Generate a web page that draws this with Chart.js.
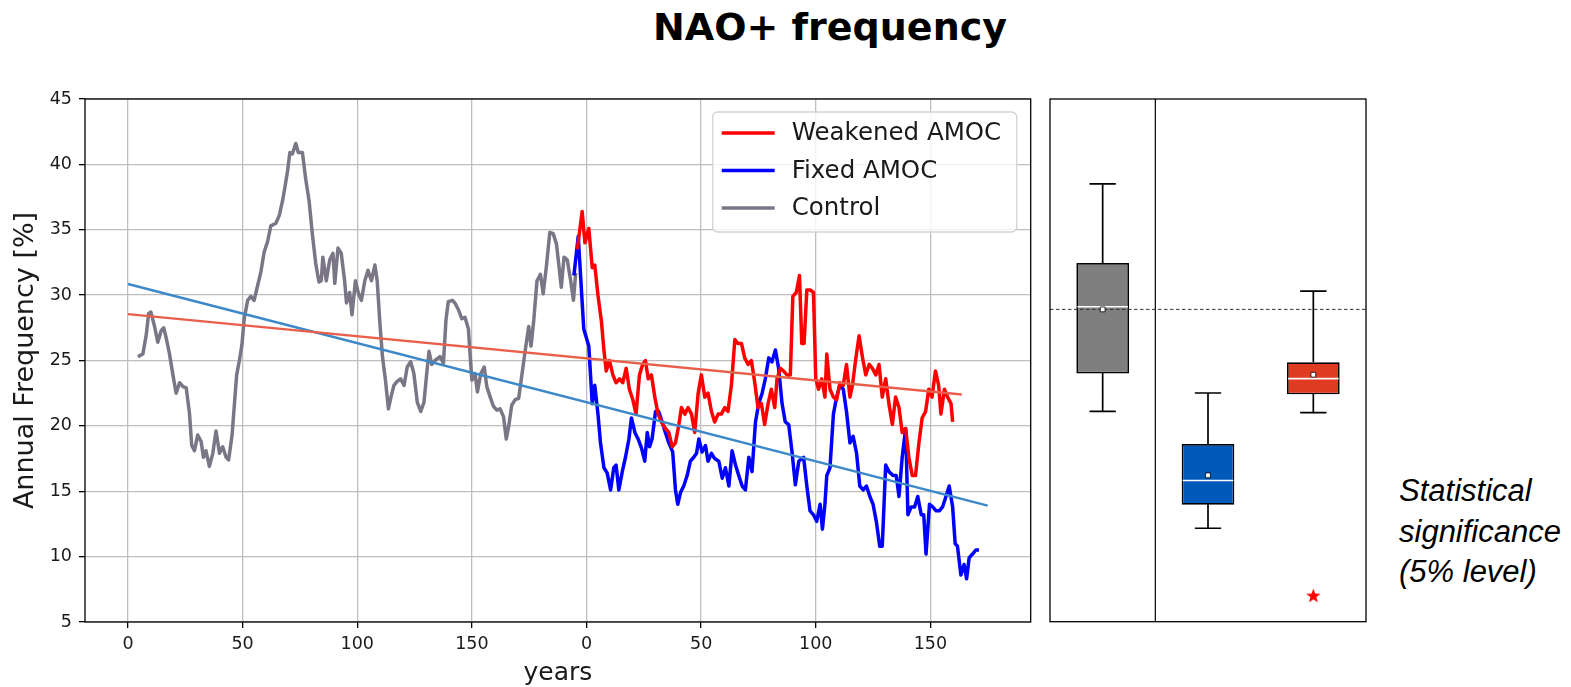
<!DOCTYPE html>
<html>
<head>
<meta charset="utf-8">
<title>NAO+ frequency</title>
<script src="https://cdn.jsdelivr.net/npm/chart.js@4.4.0/dist/chart.umd.min.js"></script>
<style>
  body { margin: 0; background: #fff; }
  #page { position: relative; width: 1571px; height: 687px; overflow: hidden; }
  #title { position: absolute; left: 630px; top: 8px; width: 400px; text-align: center;
           font: bold 38px/38px "DejaVu Sans", sans-serif; color: #000; white-space: nowrap; }
  #lineChart { position: absolute; left: 0; top: 0; }
  #boxChart { position: absolute; left: 1040px; top: 0; }
  #note { position: absolute; left: 1399px; top: 471px;
          font: italic 31px/40.5px "Liberation Sans", Arial, sans-serif; color: #000; }
</style>
</head>
<body>
<div id="page">
  <div id="title">NAO+ frequency</div>
  <canvas id="lineChart" width="1045" height="687"></canvas>
  <canvas id="boxChart" width="340" height="687"></canvas>
  <div id="note">Statistical<br>significance<br>(5% level)</div>
</div>

<script>
/* ===== Data ===== */
// experiment years are drawn after the 200-year control run on the same axis
const EXP_OFFSET = 200;
const controlTicks = [0, 50, 100, 150];
const expTicks = [0, 50, 100, 150];

const controlYears = [4.3, 6.5, 8, 9, 10, 11.6, 13, 14.5, 15.6, 16.7,
  18, 19.6, 21, 22.5, 24, 25.4, 26.8, 27.8, 29, 30.4,
  31.9, 32.9, 34, 35.5, 37, 38.4, 39.9, 41.3, 42.8, 43.9,
  45.4, 46.4, 47.4, 48.6, 49.7, 50.7, 52.2, 53.6, 55, 56.5,
  58, 59.4, 60.9, 62.3, 64.5, 66, 67.4, 68.6, 69.6, 70.6,
  71.7, 73.2, 74.3, 76.1, 77.5, 79, 80.4, 81.9, 83.3, 84.3,
  85, 86.5, 88, 89.4, 90.2, 91.6, 93, 94.5, 95.3, 96.7,
  97.7, 99.2, 100.4, 101.8, 103.3, 104.7, 106.2, 107.7, 108.7, 109.9,
  111, 112.3, 113.6, 114.7, 116, 117.4, 118.9, 120.4, 121.8, 123.3,
  124.7, 126.2, 127.7, 129.1, 130.3, 131.3, 132.5, 133.9, 136.1, 137.6,
  138.7, 139.7, 141.5, 142.6, 144.1, 145.6, 147, 148.5, 149.2, 150,
  151.4, 152.4, 153.9, 155.4, 156.5, 158, 159.4, 160.9, 162.3, 163.8,
  165, 166, 167.4, 168.9, 170.4, 171.9, 173.3, 174.8, 175.8, 177,
  178.4, 179.9, 181.1, 182.5, 184, 185.5, 186.9, 188, 189, 190.2,
  191.6, 193.1, 194.3, 195.3];
const controlValues = [25.3, 25.5, 27, 28.6, 28.7, 27.6, 26.4, 27.3, 27.5, 26.7,
  25.6, 23.9, 22.5, 23.3, 23.0, 22.9, 21.0, 18.5, 18.1, 19.3,
  18.8, 17.6, 18.1, 16.9, 17.9, 19.6, 17.9, 18.4, 17.6, 17.4,
  19.3, 21.6, 23.9, 25, 26.2, 28.2, 29.6, 29.9, 29.6, 30.7,
  31.8, 33.3, 34.1, 35.3, 35.5, 36.1, 37.2, 38.4, 39.5, 40.9,
  40.8, 41.6, 40.9, 40.9, 38.9, 37.2, 34.7, 32.4, 31, 31.1,
  32.9, 31.1, 32.7, 33.2, 30.9, 33.6, 33.2, 31.1, 29.4, 30.2,
  28.5, 31.1, 30.2, 29.6, 31.1, 31.9, 31.1, 32.3, 31.1, 27.8,
  25.3, 23.5, 21.3, 22.2, 23.1, 23.4, 23.6, 23.1, 24.5, 24.9,
  24.0, 21.8, 21.1, 21.8, 24.0, 25.7, 24.7, 25.0, 25.3, 24.8,
  28.1, 29.5, 29.6, 29.4, 28.9, 28.2, 28.3, 27.4, 25.5, 23.5,
  24.0, 22.6, 24.0, 24.5, 23.0, 22.2, 21.5, 21.2, 21.3, 20.7,
  19.0, 19.9, 21.6, 22.0, 22.1, 24.0, 25.8, 27.6, 26.1, 28.1,
  31.1, 31.6, 30.1, 32.2, 34.8, 34.7, 33.9, 32.2, 30.6, 32.9,
  32.7, 31.1, 29.6, 31.7];

const weakenedYears = [-4, -1.9, -0.7, 1, 2.5, 3.6, 5, 6.5, 7.6, 8.6,
  10, 11.5, 12.9, 14.4, 15.8, 17.3, 18.7, 20.2, 21.6, 23.1,
  24.5, 25.7, 26.9, 28.3, 29.8, 31.2, 33, 34.4, 35.9, 37.4,
  38.8, 40.3, 41.4, 42.9, 44.3, 45.8, 47.2, 48.7, 50.1, 51.6,
  53, 54.5, 55.9, 57.4, 58.8, 60.3, 61.7, 63.2, 64.7, 66.1,
  67.6, 69, 70.5, 71.9, 73.4, 74.8, 76.3, 77.7, 79.2, 80.6,
  82.1, 83.1, 84.6, 85.9, 87.4, 88.9, 90, 91.5, 92.9, 93.9,
  94.9, 96.1, 97.5, 99, 100, 101.2, 102.6, 104, 104.8, 106.2,
  107.7, 109.1, 110.5, 112, 113.4, 114.9, 116, 117.5, 118.9, 120.4,
  121.8, 123.3, 124.7, 126.2, 127.6, 129, 130.5, 131.9, 133.4, 134.8,
  136.3, 137.7, 139.2, 140.6, 142.1, 143.5, 145, 146.4, 147.9, 149.3,
  150.7, 152.2, 153.6, 154.6, 156.1, 157.5, 159, 159.7];
const weakenedValues = [33.5, 36.4, 34.0, 35.1, 32.1, 32.3, 30.0, 28.0, 25.8, 24.2,
  25.0, 23.9, 23.3, 23.6, 23.3, 24.4, 22.8, 22.0, 20.9, 23.9,
  24.7, 25.0, 23.6, 23.9, 22.2, 20.9, 20.2, 19.8, 19.5, 18.4,
  18.7, 20.1, 21.4, 20.9, 21.4, 20.9, 19.5, 22.5, 23.9, 22.2,
  22.5, 21.1, 20.3, 20.9, 20.9, 21.4, 21.1, 23.1, 26.6, 26.3,
  26.3, 25.2, 24.7, 25.0, 23.3, 21.4, 21.7, 20.1, 21.7, 22.8,
  21.4, 23.6, 24.4, 24.2, 23.9, 23.9, 29.9, 30.2, 31.5, 26.3,
  26.3, 30.4, 30.4, 30.2, 23.6, 22.8, 23.6, 22.2, 25.5, 22.8,
  22.2, 22.0, 23.3, 23.1, 24.7, 22.2, 23.1, 25.2, 26.9, 25.2,
  23.9, 24.7, 24.4, 23.9, 24.7, 22.2, 23.6, 21.7, 20.1, 22.2,
  21.4, 19.5, 19.8, 17.6, 16.2, 16.2, 18.7, 20.6, 21.1, 22.8,
  22.2, 24.2, 23.1, 20.9, 22.8, 22.2, 21.7, 20.3];

const fixedYears = [-5.5, -3.6, -1.2, 1, 2.5, 3.6, 5, 6.1, 7.6, 9,
  10.5, 11.9, 12.9, 14.1, 15.6, 17, 18.5, 19.6, 21.1, 22.5,
  24, 25.4, 26.5, 27.5, 28.6, 30.1, 31.5, 33, 34.4, 35.9,
  37.6, 38.8, 39.8, 41, 42.4, 43.9, 45.3, 46.8, 48, 49,
  50.4, 51.9, 53, 54.5, 55.9, 57.7, 59.2, 60.6, 62.1, 63.5,
  65, 66.4, 67.9, 69.3, 70.8, 72.2, 73.7, 75.1, 76.6, 78,
  79.5, 80.9, 82.4, 83.8, 85.3, 86.7, 88.2, 89.7, 91.1, 92.6,
  94.7, 96.1, 97.5, 99, 100.4, 101.9, 102.9, 104, 104.8, 106.2,
  107.7, 109.1, 110.5, 112, 113.4, 114.9, 116.3, 117.8, 119.2, 120.7,
  122.1, 123.6, 125, 126.4, 127.9, 129, 130.5, 131.9, 133.7, 135.1,
  136.3, 137.7, 139.2, 140.2, 141.6, 143.1, 144.5, 146, 147.1, 148.1,
  149.6, 151, 152.5, 153.9, 155.3, 156.8, 158.2, 159.7, 160.8, 161.8,
  163.3, 164.7, 165.8, 166.9, 168.4, 169.8, 171.2];
const fixedValues = [31.5, 34.5, 27.4, 26.1, 21.7, 23.1, 20.9, 18.7, 16.8, 16.4,
  15.1, 16.8, 17.0, 15.1, 16.5, 17.6, 19.0, 20.6, 19.5, 19.0,
  18.3, 17.3, 19.5, 18.4, 19.0, 21.1, 21.1, 20.3, 19.5, 18.7,
  18.0, 15.1, 14.0, 14.9, 15.4, 16.2, 17.3, 17.6, 17.9, 19.0,
  18.0, 18.5, 17.3, 17.9, 17.5, 17.3, 16.0, 16.8, 15.4, 18.1,
  17.0, 16.2, 15.4, 15.1, 17.6, 16.5, 20.3, 21.7, 22.5, 23.6,
  25.2, 24.9, 25.8, 24.4, 21.7, 20.3, 20.1, 17.9, 15.5, 17.3,
  17.6, 15.4, 13.5, 13.2, 12.7, 14.0, 12.1, 14.0, 16.2, 16.8,
  20.9, 22.2, 23.1, 22.8, 21.1, 18.7, 19.2, 17.9, 15.4, 15.1,
  15.4, 14.6, 14.0, 12.7, 10.8, 10.8, 17.0, 16.5, 16.2, 16.2,
  14.6, 17.6, 19.8, 13.2, 13.8, 13.8, 14.6, 13.2, 13.2, 10.2,
  14.0, 13.8, 13.5, 13.5, 13.8, 14.6, 15.4, 13.8, 11.0, 10.8,
  8.6, 9.4, 8.3, 9.9, 10.2, 10.5, 10.5];

// linear trends, endpoints on the combined axis
const weakenedTrendX = [0, 363.7];
const weakenedTrendY = [28.55, 22.4];
const fixedTrendX = [0, 375];
const fixedTrendY = [30.85, 13.9];

// box plot statistics: Control, Fixed AMOC, Weakened AMOC
const boxLabels = ['Control', 'Fixed AMOC', 'Weakened AMOC'];
const boxMin = [21.1, 12.15, 21.0];
const boxQ1 = [24.0, 13.95, 22.4];
const boxMedian = [29.1, 15.8, 23.6];
const boxMean = [28.9, 16.2, 23.9];
const boxQ3 = [32.45, 18.6, 24.85];
const boxMax = [38.5, 22.5, 30.3];
const controlMean = 28.9;
const significantBox = [2];      // index into boxLabels
const significantY = [7];

/* ===== Styles ===== */
const COLORS = {
  weakened: '#ff0000',
  fixed: '#0000ff',
  control: '#7b7686',
  weakenedTrend: '#e8604c',
  fixedTrend: '#3c88c8'
};
const boxFill = ['#7f7f7f', '#0058b8', '#df3b20'];
const BOX_WIDTH = 0.5;
const CAP_WIDTH = 0.25;
const SERIES_WIDTH = 3.5;
const TREND_WIDTH = 2.4;

Chart.defaults.font.family = '"DejaVu Sans", sans-serif';
Chart.defaults.color = '#1a1a1a';

/* ===== Helpers ===== */
const toPoints = (xs, ys, shift) => xs.map((x, i) => ({ x: x + shift, y: ys[i] }));

function lineSet(label, data, color, width) {
  return {
    label, data, borderColor: color, backgroundColor: color, borderWidth: width,
    showLine: true, pointRadius: 0, pointHoverRadius: 0, tension: 0, fill: false,
    borderJoinStyle: 'round'
  };
}

function starImage(size, color) {
  const c = document.createElement('canvas');
  c.width = c.height = size;
  const g = c.getContext('2d');
  const r = size / 2, ri = r * 0.42;
  g.beginPath();
  for (let k = 0; k < 10; k++) {
    const rad = k % 2 ? ri : r;
    const ang = -Math.PI / 2 + k * Math.PI / 5;
    g.lineTo(r + rad * Math.cos(ang), r + 0.6 + rad * Math.sin(ang));
  }
  g.closePath();
  g.fillStyle = color;
  g.fill();
  return c;
}

/* ===== Plugins ===== */
const frame = {
  id: 'frame',
  afterDatasetsDraw(chart) {
    const { ctx, chartArea: a } = chart;
    ctx.save();
    ctx.strokeStyle = '#000';
    ctx.lineWidth = 1.3;
    ctx.strokeRect(a.left, a.top, a.right - a.left, a.bottom - a.top);
    ctx.restore();
  }
};

const legendItems = ['Weakened AMOC', 'Fixed AMOC', 'Control'];
const legendBox = {
  id: 'legendBox',
  afterDraw(chart) {
    const { ctx, chartArea: a } = chart;
    const w = 304, h = 120;
    const left = a.right - 318, top = a.top + 13;
    ctx.save();
    ctx.beginPath();
    ctx.roundRect(left, top, w, h, 5);
    ctx.fillStyle = 'rgba(255,255,255,0.8)';
    ctx.fill();
    ctx.strokeStyle = '#d4d4d4';
    ctx.lineWidth = 1.3;
    ctx.stroke();
    ctx.font = '24.5px "DejaVu Sans"';
    ctx.textBaseline = 'middle';
    ctx.fillStyle = '#1a1a1a';
    legendItems.forEach((name, i) => {
      const ds = chart.data.datasets.find(d => d.label === name);
      const y = top + 21 + i * 37.5;
      ctx.beginPath();
      ctx.moveTo(left + 9, y);
      ctx.lineTo(left + 62, y);
      ctx.strokeStyle = ds.borderColor;
      ctx.lineWidth = ds.borderWidth;
      ctx.stroke();
      ctx.fillText(name, left + 79, y + 1);
    });
    ctx.restore();
  }
};

/* ===== Time series ===== */
const axisTickFont = { size: 17.5 };
const gridStyle = { color: '#bebebe', lineWidth: 1.3, tickColor: '#000', tickLength: 6, tickWidth: 1.3 };

new Chart(document.getElementById('lineChart'), {
  type: 'scatter',
  data: {
    datasets: [
      lineSet('Weakened trend', toPoints(weakenedTrendX, weakenedTrendY, 0), COLORS.weakenedTrend, TREND_WIDTH),
      lineSet('Fixed trend', toPoints(fixedTrendX, fixedTrendY, 0), COLORS.fixedTrend, TREND_WIDTH),
      lineSet('Weakened AMOC', toPoints(weakenedYears, weakenedValues, EXP_OFFSET), COLORS.weakened, SERIES_WIDTH),
      lineSet('Fixed AMOC', toPoints(fixedYears, fixedValues, EXP_OFFSET), COLORS.fixed, SERIES_WIDTH),
      lineSet('Control', toPoints(controlYears, controlValues, 0), COLORS.control, SERIES_WIDTH)
    ]
  },
  options: {
    responsive: false,
    animation: false,
    events: [],
    layout: { padding: { left: 0, right: 14.3, top: 99, bottom: 0 } },
    plugins: { legend: { display: false }, tooltip: { enabled: false } },
    scales: {
      x: {
        type: 'linear',
        min: -18.75,
        max: 393.75,
        afterBuildTicks: s => {
          s.ticks = controlTicks.concat(expTicks.map(t => t + EXP_OFFSET)).map(v => ({ value: v }));
        },
        afterFit: s => { s.height = 65; },
        ticks: {
          autoSkip: false, maxRotation: 0, padding: 6, font: axisTickFont,
          callback: v => (v >= EXP_OFFSET ? v - EXP_OFFSET : v)
        },
        grid: gridStyle,
        border: { display: false },
        title: { display: true, text: 'years', font: { size: 25, lineHeight: 1 }, padding: { top: 0, bottom: 1 } }
      },
      y: {
        type: 'linear',
        min: 5,
        max: 45,
        afterFit: s => { s.width = 85; },
        ticks: { stepSize: 5, padding: 7, font: axisTickFont },
        grid: gridStyle,
        border: { display: false },
        title: { display: true, text: 'Annual Frequency [%]', font: { size: 27, lineHeight: 1 }, padding: { top: 12, bottom: 0 } }
      }
    }
  },
  plugins: [frame, legendBox]
});

/* ===== Box plots ===== */
const boxX = boxLabels.map((_, i) => i + 1);
const segments = (pairs) => {
  const pts = [];
  pairs.forEach(([a, b]) => { pts.push(a, b, { x: a.x, y: null }); });
  return pts;
};

const whiskers = segments(boxX.flatMap((x, i) => [
  [{ x, y: boxQ3[i] }, { x, y: boxMax[i] }],
  [{ x, y: boxQ1[i] }, { x, y: boxMin[i] }]
]));
const caps = segments(boxX.flatMap((x, i) => [
  [{ x: x - CAP_WIDTH / 2, y: boxMax[i] }, { x: x + CAP_WIDTH / 2, y: boxMax[i] }],
  [{ x: x - CAP_WIDTH / 2, y: boxMin[i] }, { x: x + CAP_WIDTH / 2, y: boxMin[i] }]
]));
const medians = segments(boxX.map((x, i) =>
  [{ x: x - BOX_WIDTH / 2 + 0.01, y: boxMedian[i] }, { x: x + BOX_WIDTH / 2 - 0.01, y: boxMedian[i] }]));

new Chart(document.getElementById('boxChart'), {
  type: 'scatter',
  data: {
    datasets: [
      {
        label: 'mean', data: boxX.map((x, i) => ({ x, y: boxMean[i] })),
        pointStyle: 'rect', pointRadius: 3.4, backgroundColor: '#fff', borderColor: '#000', borderWidth: 0.8
      },
      Object.assign(lineSet('control mean', [{ x: 0.5, y: controlMean }, { x: 3.5, y: controlMean }], '#333', 1),
        { borderDash: [3.5, 2.5] }),
      lineSet('median', medians, '#fff', 1.6),
      {
        type: 'bar', label: 'box',
        data: boxX.map((x, i) => ({ x, y: [boxQ1[i], boxQ3[i]] })),
        backgroundColor: boxFill, borderColor: '#000', borderWidth: 1.7, borderSkipped: false,
        barPercentage: BOX_WIDTH, categoryPercentage: 1
      },
      lineSet('whiskers', whiskers, '#000', 1.7),
      lineSet('caps', caps, '#000', 1.7),
      lineSet('divider', [{ x: 1.5, y: 5 }, { x: 1.5, y: 45 }], '#000', 1.2),
      {
        label: 'significance', data: significantBox.map((b, i) => ({ x: boxX[b], y: significantY[i] })),
        pointStyle: starImage(15, '#ff0000'), pointRadius: 7
      }
    ]
  },
  options: {
    responsive: false,
    animation: false,
    events: [],
    layout: { padding: { left: 10, right: 14, top: 99, bottom: 65.3 } },
    plugins: { legend: { display: false }, tooltip: { enabled: false } },
    scales: {
      x: {
        type: 'linear', min: 0.5, max: 3.5, offset: false, display: false,
        afterBuildTicks: s => { s.ticks = boxX.map(v => ({ value: v })); }
      },
      y: { type: 'linear', min: 5, max: 45, beginAtZero: false, display: false }
    }
  },
  plugins: [frame]
});
</script>
</body>
</html>
